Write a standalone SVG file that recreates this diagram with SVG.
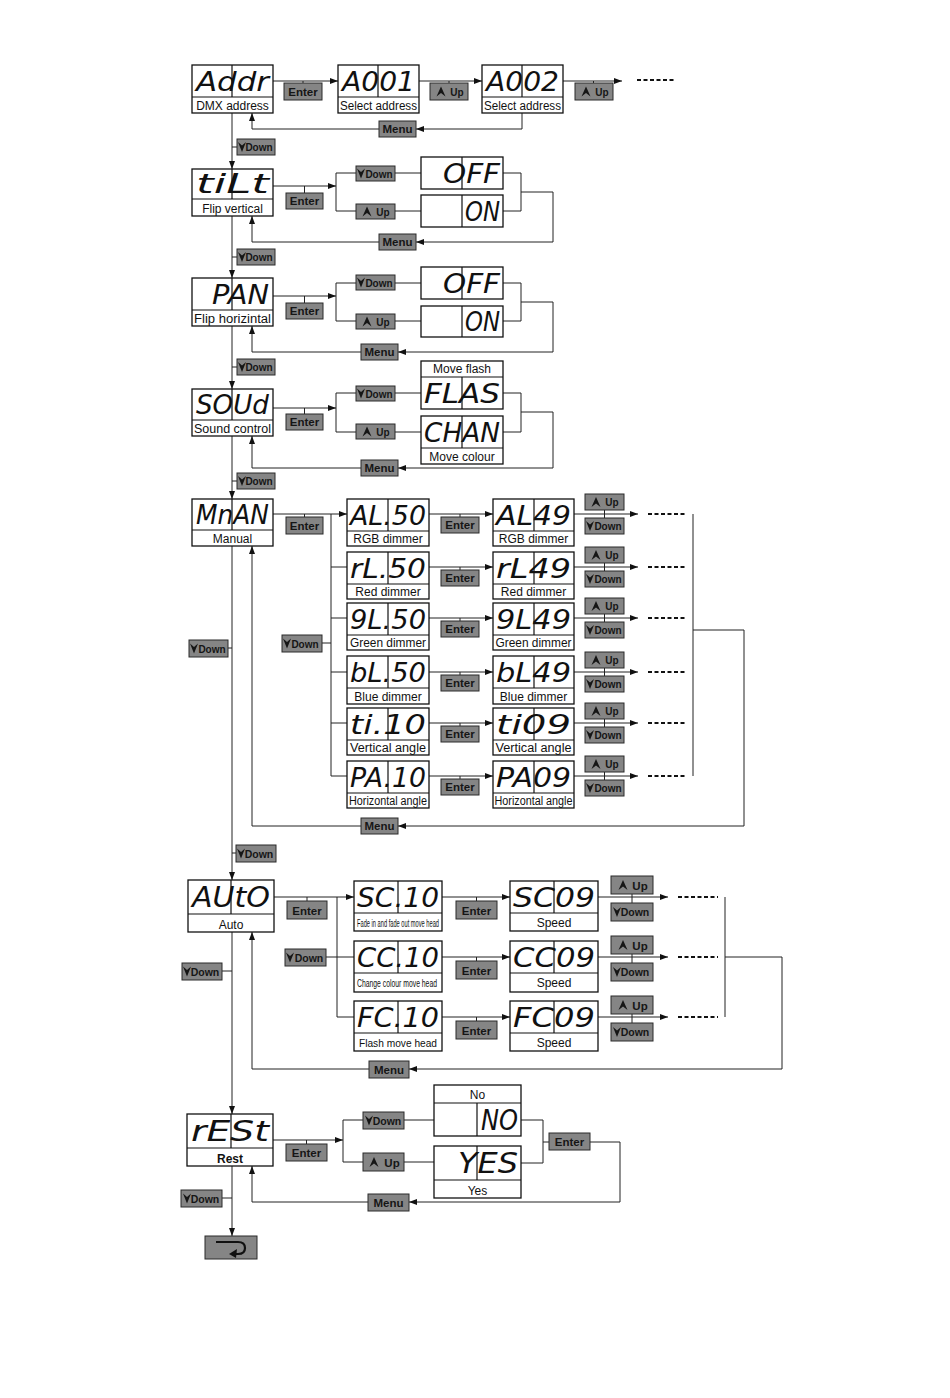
<svg xmlns="http://www.w3.org/2000/svg" xmlns:xlink="http://www.w3.org/1999/xlink" width="950" height="1398" viewBox="0 0 950 1398">
<defs>
<style>
.bx{fill:#fff;stroke:#111;stroke-width:1.3}
.dl{stroke:#111;stroke-width:1.2}
.sg{font-family:"DejaVu Sans Condensed","DejaVu Sans",sans-serif;font-style:oblique;font-size:27px;fill:#111}
.sg2{font-size:29px}
.lb{font-family:"Liberation Sans",Arial,sans-serif;font-size:12px;fill:#111;text-anchor:middle}
.sm{font-family:"Liberation Sans Narrow","Liberation Sans",Arial,sans-serif;font-size:10px;fill:#111}
.bt rect{fill:#858585;stroke:#2a2a2a;stroke-width:1}
.bt text{font-family:"Liberation Sans",Arial,sans-serif;font-weight:bold;font-size:11.5px;fill:#161616;text-anchor:middle}
.bt use{fill:#161616}
.cn path{fill:none;stroke:#222;stroke-width:1}
.cn .ds{stroke:#111;stroke-width:2;stroke-dasharray:4 2.5}
.cn .ar{marker-end:url(#ah)}
</style>
<marker id="ah" viewBox="0 0 8 6" refX="8" refY="3" markerWidth="8" markerHeight="6" markerUnits="userSpaceOnUse" orient="auto">
<path d="M0 0 L8 3 L0 6 Z" fill="#111"/>
</marker>
<path id="icU" d="M-4.5 5 L0 -5 L4.5 5 L0 1.5 Z"/>
<path id="icD" d="M-4 -5 L0 5 L4 -5 L0 -1.5 Z"/>
</defs>
<rect width="950" height="1398" fill="#fff"/>

<g id="connectors" class="cn">
<path class="ar" d="M273 81 H338"/><path d="M303 81 V83"/>
<path class="ar" d="M419 81 H482"/><path d="M449 81 V83"/>
<path class="ar" d="M563 81 H622"/><path d="M593.5 81 V83"/>
<path class="ds" d="M637 80 H675"/>
<path class="ar" d="M522 113 V129 H416"/><path class="ar" d="M379 129 H252 V113"/>
<path class="ar" d="M232 113 V169"/><path d="M232 147 H237"/>

<path class="ar" d="M273 186 H336"/><path d="M304.5 186 V193"/>
<path d="M336 173 V211 M336 173 H356 M395 173 H421 M336 211 H356 M395 211 H421"/>
<path d="M503 173 H521 V211 H503"/>
<path class="ar" d="M521 192 H553 V242 H416"/><path class="ar" d="M379 242 H252 V216"/>
<path class="ar" d="M232 216 V278"/><path d="M232 257 H237"/>

<path class="ar" d="M273 296 H336"/><path d="M304.5 296 V303"/>
<path d="M336 283 V321 M336 283 H356 M395 283 H421 M336 321 H356 M395 321 H421"/>
<path d="M503 283 H521 V321 H503"/>
<path class="ar" d="M521 302 H553 V352 H398"/><path class="ar" d="M361 352 H252 V326"/>
<path class="ar" d="M232 326 V389"/><path d="M232 367 H237"/>

<path class="ar" d="M273 408 H336"/><path d="M304.5 408 V414"/>
<path d="M336 393 V432 M336 393 H356 M395 393 H421 M336 432 H356 M395 432 H421"/>
<path d="M503 393 H521 V432 H503"/>
<path class="ar" d="M521 412 H553 V468 H398"/><path class="ar" d="M361 468 H252 V436"/>
<path class="ar" d="M232 436 V499"/><path d="M232 481 H237"/>

<path class="ar" d="M273 514 H347"/><path d="M304.5 514 V517"/>
<path d="M331 514 V776 M331 567 H347 M331 618 H347 M331 672 H347 M331 723 H347 M331 776 H347 M322 643 H331"/>
<path class="ar" d="M429 514 H493"/><path d="M460 514 V517"/>
<path class="ar" d="M429 567 H493"/><path d="M460 567 V570"/>
<path class="ar" d="M429 618 H493"/><path d="M460 618 V621"/>
<path class="ar" d="M429 672 H493"/><path d="M460 672 V675"/>
<path class="ar" d="M429 723 H493"/><path d="M460 723 V726"/>
<path class="ar" d="M429 776 H493"/><path d="M460 776 V779"/>
<path class="ar" d="M574 514 H638"/><path d="M604.5 510 V518"/><path class="ds" d="M648 514 H686"/>
<path class="ar" d="M574 567 H638"/><path d="M604.5 563 V571"/><path class="ds" d="M648 567 H686"/>
<path class="ar" d="M574 618 H638"/><path d="M604.5 614 V622"/><path class="ds" d="M648 618 H686"/>
<path class="ar" d="M574 672 H638"/><path d="M604.5 668 V676"/><path class="ds" d="M648 672 H686"/>
<path class="ar" d="M574 723 H638"/><path d="M604.5 719 V727"/><path class="ds" d="M648 723 H686"/>
<path class="ar" d="M574 776 H638"/><path d="M604.5 772 V780"/><path class="ds" d="M648 776 H686"/>
<path d="M693 514 V776"/>
<path class="ar" d="M693 630 H744 V826 H398"/><path class="ar" d="M361 826 H252 V546"/>
<path class="ar" d="M232 546 V880"/><path d="M228 648 H232"/><path d="M232 853 H236"/>

<path class="ar" d="M274 897 H354"/><path d="M307 897 V901"/>
<path d="M337 897 V1017 M326 957 H354 M337 1017 H354"/>
<path class="ar" d="M442 897 H510"/><path d="M476.5 897 V901"/>
<path class="ar" d="M442 957 H510"/><path d="M476.5 957 V961"/>
<path class="ar" d="M442 1017 H510"/><path d="M476.5 1017 V1021"/>
<path class="ar" d="M598 897 H668"/><path d="M632 894 V903"/><path class="ds" d="M678 897 H718"/>
<path class="ar" d="M598 957 H668"/><path d="M632 954 V963"/><path class="ds" d="M678 957 H718"/>
<path class="ar" d="M598 1017 H668"/><path d="M632 1014 V1023"/><path class="ds" d="M678 1017 H718"/>
<path d="M725 897 V1017"/>
<path class="ar" d="M725 957 H782 V1069 H409"/><path class="ar" d="M369 1069 H252 V932"/>
<path class="ar" d="M232 932 V1114"/><path d="M222 971 H232"/>

<path class="ar" d="M273 1140 H343"/><path d="M306.5 1140 V1144"/>
<path d="M343 1120 V1162 M343 1120 H363 M404 1120 H434 M343 1162 H363 M404 1162 H434"/>
<path d="M521 1120 H543 V1163 H521 M543 1142 H549"/>
<path class="ar" d="M590 1142 H620 V1202 H409"/><path class="ar" d="M368 1202 H252 V1166"/>
<path class="ar" d="M232 1166 V1236"/><path d="M222 1198 H232"/>
</g>

<g id="n-addr"><rect class="bx" x="192" y="65" width="81" height="48"/><line class="dl" x1="192" y1="97" x2="273" y2="97"/><line class="dl" x1="232" y1="65" x2="232" y2="97"/><text class="sg" x="196" y="91" textLength="73" lengthAdjust="spacingAndGlyphs">Addr</text><text class="lb" x="232.5" y="110">DMX address</text></g>
<g id="n-a001"><rect class="bx" x="338" y="65" width="81" height="48"/><line class="dl" x1="338" y1="97" x2="419" y2="97"/><line class="dl" x1="378" y1="65" x2="378" y2="97"/><text class="sg" x="342" y="91" textLength="73" lengthAdjust="spacingAndGlyphs">A001</text><text class="lb" x="378.5" y="110" textLength="77" lengthAdjust="spacingAndGlyphs">Select address</text></g>
<g id="n-a002"><rect class="bx" x="482" y="65" width="81" height="48"/><line class="dl" x1="482" y1="97" x2="563" y2="97"/><line class="dl" x1="522" y1="65" x2="522" y2="97"/><text class="sg" x="486" y="91" textLength="73" lengthAdjust="spacingAndGlyphs">A002</text><text class="lb" x="522.5" y="110" textLength="77" lengthAdjust="spacingAndGlyphs">Select address</text></g>

<g id="n-tilt"><rect class="bx" x="192" y="169" width="81" height="47"/><line class="dl" x1="192" y1="199" x2="273" y2="199"/><line class="dl" x1="232" y1="169" x2="232" y2="199"/><text class="sg" x="196" y="193" textLength="73" lengthAdjust="spacingAndGlyphs">tiLt</text><text class="lb" x="232.5" y="213">Flip vertical</text></g>
<g id="n-tilt-off"><rect class="bx" x="421" y="157" width="82" height="32"/><line class="dl" x1="462" y1="157" x2="462" y2="189"/><text class="sg" x="443" y="183" textLength="57" lengthAdjust="spacingAndGlyphs">OFF</text></g>
<g id="n-tilt-on"><rect class="bx" x="421" y="195" width="82" height="32"/><line class="dl" x1="462" y1="195" x2="462" y2="227"/><text class="sg" x="465" y="221" textLength="35" lengthAdjust="spacingAndGlyphs">ON</text></g>

<g id="n-pan"><rect class="bx" x="192" y="278" width="81" height="48"/><line class="dl" x1="192" y1="310" x2="273" y2="310"/><line class="dl" x1="232" y1="278" x2="232" y2="310"/><text class="sg" x="212" y="304" textLength="57" lengthAdjust="spacingAndGlyphs">PAN</text><text class="lb" x="232.5" y="323" textLength="77" lengthAdjust="spacingAndGlyphs">Flip horizintal</text></g>
<g id="n-pan-off"><rect class="bx" x="421" y="267" width="82" height="32"/><line class="dl" x1="462" y1="267" x2="462" y2="299"/><text class="sg" x="443" y="293" textLength="57" lengthAdjust="spacingAndGlyphs">OFF</text></g>
<g id="n-pan-on"><rect class="bx" x="421" y="306" width="82" height="31"/><line class="dl" x1="462" y1="306" x2="462" y2="337"/><text class="sg" x="465" y="331" textLength="35" lengthAdjust="spacingAndGlyphs">ON</text></g>

<g id="n-soud"><rect class="bx" x="192" y="389" width="81" height="47"/><line class="dl" x1="192" y1="420" x2="273" y2="420"/><line class="dl" x1="232" y1="389" x2="232" y2="420"/><text class="sg" x="196" y="414" textLength="73" lengthAdjust="spacingAndGlyphs">SOUd</text><text class="lb" x="232.5" y="433" textLength="77" lengthAdjust="spacingAndGlyphs">Sound control</text></g>
<g id="n-flas"><rect class="bx" x="421" y="361" width="82" height="48"/><line class="dl" x1="421" y1="377" x2="503" y2="377"/><line class="dl" x1="462" y1="377" x2="462" y2="409"/><text class="lb" x="462" y="373">Move flash</text><text class="sg" x="424" y="403" textLength="76" lengthAdjust="spacingAndGlyphs">FLAS</text></g>
<g id="n-chan"><rect class="bx" x="421" y="416" width="82" height="48"/><line class="dl" x1="421" y1="448" x2="503" y2="448"/><line class="dl" x1="462" y1="416" x2="462" y2="448"/><text class="sg" x="424" y="442" textLength="76" lengthAdjust="spacingAndGlyphs">CHAN</text><text class="lb" x="462" y="461">Move colour</text></g>

<g id="n-manual"><rect class="bx" x="192" y="499" width="81" height="47"/><line class="dl" x1="192" y1="530" x2="273" y2="530"/><line class="dl" x1="232" y1="499" x2="232" y2="530"/><text class="sg" x="196" y="524" textLength="73" lengthAdjust="spacingAndGlyphs">MnAN</text><text class="lb" x="232.5" y="543">Manual</text></g>

<g id="n-al50"><rect class="bx" x="347" y="499" width="82" height="47"/><line class="dl" x1="347" y1="531" x2="429" y2="531"/><line class="dl" x1="388" y1="499" x2="388" y2="531"/><text class="sg" x="350" y="525" textLength="76" lengthAdjust="spacingAndGlyphs">AL.50</text><text class="lb" x="388" y="543">RGB dimmer</text></g>
<g id="n-al49"><rect class="bx" x="493" y="499" width="81" height="47"/><line class="dl" x1="493" y1="531" x2="574" y2="531"/><line class="dl" x1="534" y1="499" x2="534" y2="531"/><text class="sg" x="496" y="525" textLength="75" lengthAdjust="spacingAndGlyphs">AL49</text><text class="lb" x="533.5" y="543">RGB dimmer</text></g>
<g id="n-rl50"><rect class="bx" x="347" y="552" width="82" height="47"/><line class="dl" x1="347" y1="584" x2="429" y2="584"/><line class="dl" x1="388" y1="552" x2="388" y2="584"/><text class="sg" x="350" y="578" textLength="76" lengthAdjust="spacingAndGlyphs">rL.50</text><text class="lb" x="388" y="596">Red dimmer</text></g>
<g id="n-rl49"><rect class="bx" x="493" y="552" width="81" height="47"/><line class="dl" x1="493" y1="584" x2="574" y2="584"/><line class="dl" x1="534" y1="552" x2="534" y2="584"/><text class="sg" x="496" y="578" textLength="75" lengthAdjust="spacingAndGlyphs">rL49</text><text class="lb" x="533.5" y="596">Red dimmer</text></g>
<g id="n-gl50"><rect class="bx" x="347" y="603" width="82" height="47"/><line class="dl" x1="347" y1="635" x2="429" y2="635"/><line class="dl" x1="388" y1="603" x2="388" y2="635"/><text class="sg" x="350" y="629" textLength="76" lengthAdjust="spacingAndGlyphs">9L.50</text><text class="lb" x="388" y="647" textLength="76" lengthAdjust="spacingAndGlyphs">Green dimmer</text></g>
<g id="n-gl49"><rect class="bx" x="493" y="603" width="81" height="47"/><line class="dl" x1="493" y1="635" x2="574" y2="635"/><line class="dl" x1="534" y1="603" x2="534" y2="635"/><text class="sg" x="496" y="629" textLength="75" lengthAdjust="spacingAndGlyphs">9L49</text><text class="lb" x="533.5" y="647" textLength="76" lengthAdjust="spacingAndGlyphs">Green dimmer</text></g>
<g id="n-bl50"><rect class="bx" x="347" y="656" width="82" height="48"/><line class="dl" x1="347" y1="688" x2="429" y2="688"/><line class="dl" x1="388" y1="656" x2="388" y2="688"/><text class="sg" x="350" y="682" textLength="76" lengthAdjust="spacingAndGlyphs">bL.50</text><text class="lb" x="388" y="701">Blue dimmer</text></g>
<g id="n-bl49"><rect class="bx" x="493" y="656" width="81" height="48"/><line class="dl" x1="493" y1="688" x2="574" y2="688"/><line class="dl" x1="534" y1="656" x2="534" y2="688"/><text class="sg" x="496" y="682" textLength="75" lengthAdjust="spacingAndGlyphs">bL49</text><text class="lb" x="533.5" y="701">Blue dimmer</text></g>
<g id="n-ti10"><rect class="bx" x="347" y="708" width="82" height="47"/><line class="dl" x1="347" y1="740" x2="429" y2="740"/><line class="dl" x1="388" y1="708" x2="388" y2="740"/><text class="sg" x="350" y="734" textLength="76" lengthAdjust="spacingAndGlyphs">ti.10</text><text class="lb" x="388" y="752" textLength="76" lengthAdjust="spacingAndGlyphs">Vertical angle</text></g>
<g id="n-ti09"><rect class="bx" x="493" y="708" width="81" height="47"/><line class="dl" x1="493" y1="740" x2="574" y2="740"/><line class="dl" x1="534" y1="708" x2="534" y2="740"/><text class="sg" x="496" y="734" textLength="75" lengthAdjust="spacingAndGlyphs">ti09</text><text class="lb" x="533.5" y="752" textLength="76" lengthAdjust="spacingAndGlyphs">Vertical angle</text></g>
<g id="n-pa10"><rect class="bx" x="347" y="761" width="82" height="47"/><line class="dl" x1="347" y1="793" x2="429" y2="793"/><line class="dl" x1="388" y1="761" x2="388" y2="793"/><text class="sg" x="350" y="787" textLength="76" lengthAdjust="spacingAndGlyphs">PA.10</text><text class="lb" x="388" y="805" textLength="78" lengthAdjust="spacingAndGlyphs">Horizontal angle</text></g>
<g id="n-pa09"><rect class="bx" x="493" y="761" width="81" height="47"/><line class="dl" x1="493" y1="793" x2="574" y2="793"/><line class="dl" x1="534" y1="761" x2="534" y2="793"/><text class="sg" x="496" y="787" textLength="75" lengthAdjust="spacingAndGlyphs">PA09</text><text class="lb" x="533.5" y="805" textLength="78" lengthAdjust="spacingAndGlyphs">Horizontal angle</text></g>

<g id="n-auto"><rect class="bx" x="188" y="880" width="86" height="52"/><line class="dl" x1="188" y1="914" x2="274" y2="914"/><line class="dl" x1="231" y1="880" x2="231" y2="914"/><text class="sg sg2" x="192" y="907" textLength="78" lengthAdjust="spacingAndGlyphs">AUtO</text><text class="lb" x="231" y="929">Auto</text></g>
<g id="n-sc10"><rect class="bx" x="354" y="881" width="88" height="50"/><line class="dl" x1="354" y1="913" x2="442" y2="913"/><line class="dl" x1="398" y1="881" x2="398" y2="913"/><text class="sg" x="357" y="907" textLength="82" lengthAdjust="spacingAndGlyphs">SC.10</text><text class="sm" x="357" y="927" textLength="82" lengthAdjust="spacingAndGlyphs">Fade in and fade out move head</text></g>
<g id="n-sc09"><rect class="bx" x="510" y="881" width="88" height="50"/><line class="dl" x1="510" y1="913" x2="598" y2="913"/><line class="dl" x1="554" y1="881" x2="554" y2="913"/><text class="sg" x="513" y="907" textLength="82" lengthAdjust="spacingAndGlyphs">SC09</text><text class="lb" x="554" y="927">Speed</text></g>
<g id="n-cc10"><rect class="bx" x="354" y="941" width="88" height="51"/><line class="dl" x1="354" y1="973" x2="442" y2="973"/><line class="dl" x1="398" y1="941" x2="398" y2="973"/><text class="sg" x="357" y="967" textLength="82" lengthAdjust="spacingAndGlyphs">CC.10</text><text class="sm" x="357" y="987" textLength="80" lengthAdjust="spacingAndGlyphs">Change colour  move head</text></g>
<g id="n-cc09"><rect class="bx" x="510" y="941" width="88" height="51"/><line class="dl" x1="510" y1="973" x2="598" y2="973"/><line class="dl" x1="554" y1="941" x2="554" y2="973"/><text class="sg" x="513" y="967" textLength="82" lengthAdjust="spacingAndGlyphs">CC09</text><text class="lb" x="554" y="987">Speed</text></g>
<g id="n-fc10"><rect class="bx" x="354" y="1001" width="88" height="50"/><line class="dl" x1="354" y1="1033" x2="442" y2="1033"/><line class="dl" x1="398" y1="1001" x2="398" y2="1033"/><text class="sg" x="357" y="1027" textLength="82" lengthAdjust="spacingAndGlyphs">FC.10</text><text class="sm" x="359" y="1047" textLength="78" lengthAdjust="spacingAndGlyphs" style="font-size:11.5px">Flash  move head</text></g>
<g id="n-fc09"><rect class="bx" x="510" y="1001" width="88" height="50"/><line class="dl" x1="510" y1="1033" x2="598" y2="1033"/><line class="dl" x1="554" y1="1001" x2="554" y2="1033"/><text class="sg" x="513" y="1027" textLength="82" lengthAdjust="spacingAndGlyphs">FC09</text><text class="lb" x="554" y="1047">Speed</text></g>

<g id="n-reset"><rect class="bx" x="187" y="1114" width="86" height="52"/><line class="dl" x1="187" y1="1148" x2="273" y2="1148"/><line class="dl" x1="231" y1="1114" x2="231" y2="1148"/><text class="sg sg2" x="191" y="1141" textLength="78" lengthAdjust="spacingAndGlyphs">rESt</text><text class="lb" x="230" y="1163" style="font-weight:bold">Rest</text></g>
<g id="n-no"><rect class="bx" x="434" y="1085" width="87" height="51"/><line class="dl" x1="434" y1="1103" x2="521" y2="1103"/><line class="dl" x1="477" y1="1103" x2="477" y2="1136"/><text class="lb" x="477.5" y="1099">No</text><text class="sg sg2" x="481" y="1130" textLength="37" lengthAdjust="spacingAndGlyphs">NO</text></g>
<g id="n-yes"><rect class="bx" x="434" y="1146" width="87" height="52"/><line class="dl" x1="434" y1="1180" x2="521" y2="1180"/><line class="dl" x1="477" y1="1146" x2="477" y2="1180"/><text class="sg sg2" x="458" y="1173" textLength="60" lengthAdjust="spacingAndGlyphs">YES</text><text class="lb" x="477.5" y="1195">Yes</text></g>

<g id="b-enter" class="bt">
<rect x="284" y="83" width="38" height="17"/><text x="303" y="95.5">Enter</text>
<rect x="286" y="193" width="37" height="16"/><text x="304.5" y="205">Enter</text>
<rect x="286" y="303" width="37" height="16"/><text x="304.5" y="315">Enter</text>
<rect x="286" y="414" width="37" height="16"/><text x="304.5" y="426">Enter</text>
<rect x="286" y="517" width="37" height="17"/><text x="304.5" y="529.5">Enter</text>
<rect x="441" y="517" width="38" height="16"/><text x="460" y="529">Enter</text>
<rect x="441" y="570" width="38" height="16"/><text x="460" y="582">Enter</text>
<rect x="441" y="621" width="38" height="16"/><text x="460" y="633">Enter</text>
<rect x="441" y="675" width="38" height="16"/><text x="460" y="687">Enter</text>
<rect x="441" y="726" width="38" height="16"/><text x="460" y="738">Enter</text>
<rect x="441" y="779" width="38" height="16"/><text x="460" y="791">Enter</text>
<rect x="287" y="901" width="40" height="18"/><text x="307" y="914.5">Enter</text>
<rect x="456" y="901" width="41" height="18"/><text x="476.5" y="914.5">Enter</text>
<rect x="456" y="961" width="41" height="18"/><text x="476.5" y="974.5">Enter</text>
<rect x="456" y="1021" width="41" height="18"/><text x="476.5" y="1034.5">Enter</text>
<rect x="286" y="1144" width="41" height="17"/><text x="306.5" y="1156.5">Enter</text>
<rect x="549" y="1133" width="41" height="17"/><text x="569.5" y="1145.5">Enter</text>
</g>

<g id="b-menu" class="bt">
<rect x="379" y="121" width="37" height="16"/><text x="397.5" y="133">Menu</text>
<rect x="379" y="234" width="37" height="16"/><text x="397.5" y="246">Menu</text>
<rect x="361" y="344" width="37" height="16"/><text x="379.5" y="356">Menu</text>
<rect x="361" y="460" width="37" height="16"/><text x="379.5" y="472">Menu</text>
<rect x="361" y="818" width="37" height="16"/><text x="379.5" y="830">Menu</text>
<rect x="369" y="1061" width="40" height="17"/><text x="389" y="1073.5">Menu</text>
<rect x="368" y="1194" width="41" height="17"/><text x="388.5" y="1206.5">Menu</text>
</g>

<g id="b-up" class="bt">
<rect x="430" y="83" width="38" height="17"/><use xlink:href="#icU" x="441" y="91.5"/><text x="457" y="95.5" style="font-size:10px">Up</text>
<rect x="575" y="83" width="38" height="17"/><use xlink:href="#icU" x="586" y="91.5"/><text x="602" y="95.5" style="font-size:10px">Up</text>
<rect x="356" y="204" width="39" height="15"/><use xlink:href="#icU" x="367" y="211.5"/><text x="383" y="215.5" style="font-size:10px">Up</text>
<rect x="356" y="314" width="39" height="15"/><use xlink:href="#icU" x="367" y="321.5"/><text x="383" y="325.5" style="font-size:10px">Up</text>
<rect x="356" y="424" width="39" height="15"/><use xlink:href="#icU" x="367" y="431.5"/><text x="383" y="435.5" style="font-size:10px">Up</text>
<rect x="585" y="494" width="39" height="16"/><use xlink:href="#icU" x="596" y="502"/><text x="612" y="506" style="font-size:10px">Up</text>
<rect x="585" y="547" width="39" height="16"/><use xlink:href="#icU" x="596" y="555"/><text x="612" y="559" style="font-size:10px">Up</text>
<rect x="585" y="598" width="39" height="16"/><use xlink:href="#icU" x="596" y="606"/><text x="612" y="610" style="font-size:10px">Up</text>
<rect x="585" y="652" width="39" height="16"/><use xlink:href="#icU" x="596" y="660"/><text x="612" y="664" style="font-size:10px">Up</text>
<rect x="585" y="703" width="39" height="16"/><use xlink:href="#icU" x="596" y="711"/><text x="612" y="715" style="font-size:10px">Up</text>
<rect x="585" y="756" width="39" height="16"/><use xlink:href="#icU" x="596" y="764"/><text x="612" y="768" style="font-size:10px">Up</text>
<rect x="611" y="876" width="42" height="18"/><use xlink:href="#icU" x="623" y="885"/><text x="640" y="889.5">Up</text>
<rect x="611" y="936" width="42" height="18"/><use xlink:href="#icU" x="623" y="945"/><text x="640" y="949.5">Up</text>
<rect x="611" y="996" width="42" height="18"/><use xlink:href="#icU" x="623" y="1005"/><text x="640" y="1009.5">Up</text>
<rect x="363" y="1153" width="41" height="18"/><use xlink:href="#icU" x="374" y="1162"/><text x="392" y="1166.5">Up</text>
</g>

<g id="b-down" class="bt">
<rect x="237" y="139" width="38" height="16"/><use xlink:href="#icD" x="242" y="147"/><text x="259" y="151" style="font-size:10px">Down</text>
<rect x="237" y="249" width="38" height="16"/><use xlink:href="#icD" x="242" y="257"/><text x="259" y="261" style="font-size:10px">Down</text>
<rect x="237" y="359" width="38" height="16"/><use xlink:href="#icD" x="242" y="367"/><text x="259" y="371" style="font-size:10px">Down</text>
<rect x="237" y="473" width="38" height="16"/><use xlink:href="#icD" x="242" y="481"/><text x="259" y="485" style="font-size:10px">Down</text>
<rect x="356" y="166" width="39" height="15"/><use xlink:href="#icD" x="361" y="173.5"/><text x="379" y="177.5" style="font-size:10px">Down</text>
<rect x="356" y="275" width="39" height="15"/><use xlink:href="#icD" x="361" y="282.5"/><text x="379" y="286.5" style="font-size:10px">Down</text>
<rect x="356" y="386" width="39" height="15"/><use xlink:href="#icD" x="361" y="393.5"/><text x="379" y="397.5" style="font-size:10px">Down</text>
<rect x="282" y="635" width="40" height="17"/><use xlink:href="#icD" x="287" y="643.5"/><text x="305" y="647.5" style="font-size:10px">Down</text>
<rect x="189" y="640" width="39" height="17"/><use xlink:href="#icD" x="194" y="648.5"/><text x="212" y="652.5" style="font-size:10px">Down</text>
<rect x="585" y="518" width="39" height="16"/><use xlink:href="#icD" x="590" y="526"/><text x="608" y="530" style="font-size:10px">Down</text>
<rect x="585" y="571" width="39" height="16"/><use xlink:href="#icD" x="590" y="579"/><text x="608" y="583" style="font-size:10px">Down</text>
<rect x="585" y="622" width="39" height="16"/><use xlink:href="#icD" x="590" y="630"/><text x="608" y="634" style="font-size:10px">Down</text>
<rect x="585" y="676" width="39" height="16"/><use xlink:href="#icD" x="590" y="684"/><text x="608" y="688" style="font-size:10px">Down</text>
<rect x="585" y="727" width="39" height="16"/><use xlink:href="#icD" x="590" y="735"/><text x="608" y="739" style="font-size:10px">Down</text>
<rect x="585" y="780" width="39" height="16"/><use xlink:href="#icD" x="590" y="788"/><text x="608" y="792" style="font-size:10px">Down</text>
<rect x="236" y="845" width="40" height="17"/><use xlink:href="#icD" x="241" y="853.5"/><text x="259" y="857.5" style="font-size:10.5px">Down</text>
<rect x="285" y="949" width="41" height="17"/><use xlink:href="#icD" x="290" y="957.5"/><text x="309" y="961.5" style="font-size:10.5px">Down</text>
<rect x="182" y="963" width="40" height="17"/><use xlink:href="#icD" x="187" y="971.5"/><text x="205" y="975.5" style="font-size:10.5px">Down</text>
<rect x="611" y="903" width="42" height="18"/><use xlink:href="#icD" x="617" y="912"/><text x="635" y="916" style="font-size:10.5px">Down</text>
<rect x="611" y="963" width="42" height="18"/><use xlink:href="#icD" x="617" y="972"/><text x="635" y="976" style="font-size:10.5px">Down</text>
<rect x="611" y="1023" width="42" height="18"/><use xlink:href="#icD" x="617" y="1032"/><text x="635" y="1036" style="font-size:10.5px">Down</text>
<rect x="363" y="1112" width="41" height="17"/><use xlink:href="#icD" x="369" y="1120.5"/><text x="387" y="1124.5" style="font-size:10.5px">Down</text>
<rect x="181" y="1190" width="41" height="17"/><use xlink:href="#icD" x="187" y="1198.5"/><text x="205" y="1202.5" style="font-size:10.5px">Down</text>
</g>

<g id="b-return">
<rect x="205" y="1236" width="52" height="23" fill="#858585" stroke="#2a2a2a" stroke-width="1"/>
<path d="M216 1242 H238 Q245 1242 245 1248 Q245 1254 238 1254 H235" fill="none" stroke="#111" stroke-width="2.2"/>
<path d="M229 1254 L237 1249 L236 1258 Z" fill="#111"/>
</g>
</svg>
